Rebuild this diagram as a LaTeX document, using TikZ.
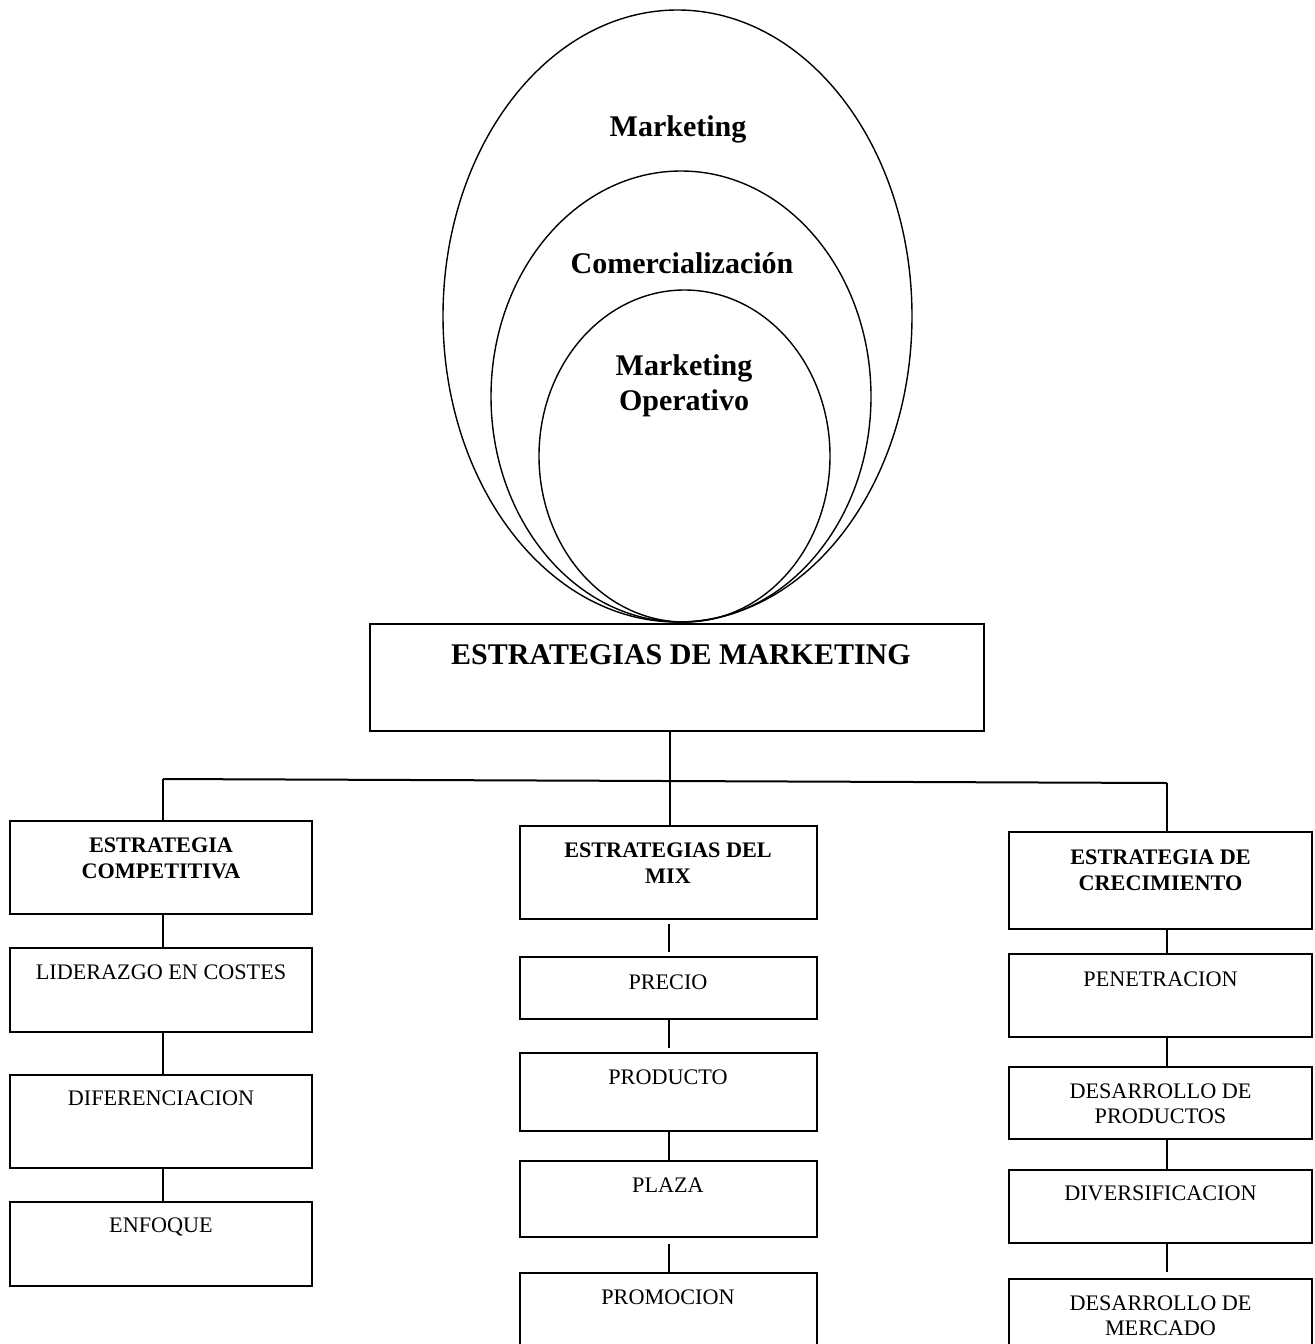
\documentclass[tikz,border=0pt]{standalone}
\usepackage{fontspec}
\setmainfont{Liberation Serif}
\usetikzlibrary{shapes.geometric}
\begin{document}
\begin{tikzpicture}[x=0.5pt,y=-0.5pt,
  box/.style={draw, line width=1pt, rectangle, inner sep=0pt},
  lbl/.style={font=\fontsize{11.1}{12.5}\selectfont, align=center, anchor=north, inner sep=0pt},
  blbl/.style={font=\fontsize{11.1}{12.8}\selectfont\bfseries, align=center, anchor=north, inner sep=0pt},
  big/.style={font=\fontsize{15}{17.5}\selectfont\bfseries, align=center, inner sep=0pt},
  conn/.style={line width=1pt},
  oval/.style={draw, ellipse, line width=0.7pt, inner sep=0pt}]
\useasboundingbox (0,0) rectangle (1314,1344);
\fill[white] (0,0) rectangle (1314,1344);
\clip (0,0) rectangle (1314,1344);

% ellipses
\node[oval, minimum width=234.5pt, minimum height=306pt] (outer) at (677.5,316) {};
\node[oval, minimum width=190pt, minimum height=225.5pt] (middle) at (681,396.5) {};
\node[oval, minimum width=145.5pt, minimum height=166pt] (inner) at (684.5,456) {};
\node[big, anchor=base] (tmk) at (678,136.7) {Marketing};
\node[big, anchor=base] (tcom) at (682,273) {Comercialización};
\node[big, anchor=north] (tmo) at (684,354.7) {Marketing\\Operativo};

% main box
\node[box, minimum width=307pt, minimum height=53.5pt] (main) at (677,677.5) {};
\node[big, anchor=north] (tmain) at (681,644.2) {ESTRATEGIAS DE MARKETING};

% left column
\node[box, minimum width=151pt, minimum height=46.5pt] (lc0) at (161,867.5) {};
\node[box, minimum width=151pt, minimum height=42pt] (lc1) at (161,990) {};
\node[box, minimum width=151pt, minimum height=46.5pt] (lc2) at (161,1121.5) {};
\node[box, minimum width=151pt, minimum height=42pt] (lc3) at (161,1244) {};
\node[blbl] (tl0) at (161,837.7) {ESTRATEGIA\\COMPETITIVA};
\node[lbl] (tl1) at (161,964.7) {LIDERAZGO EN COSTES};
\node[lbl] (tl2) at (161,1090.7) {DIFERENCIACION};
\node[lbl] (tl3) at (161,1217.7) {ENFOQUE};

% middle column
\node[box, minimum width=148.5pt, minimum height=46.5pt] (mc0) at (668.5,872.5) {};
\node[box, minimum width=148.5pt, minimum height=31pt] (mc1) at (668.5,988) {};
\node[box, minimum width=148.5pt, minimum height=39pt] (mc2) at (668.5,1092) {};
\node[box, minimum width=148.5pt, minimum height=38pt] (mc3) at (668.5,1199) {};
\node[box, minimum width=148.5pt, minimum height=43.5pt] (mc4) at (668.5,1316.5) {};
\node[blbl] (tm0) at (668,842.7) {ESTRATEGIAS DEL\\MIX};
\node[lbl] (tm1) at (668,974.7) {PRECIO};
\node[lbl] (tm2) at (668,1069.7) {PRODUCTO};
\node[lbl] (tm3) at (668,1177.7) {PLAZA};
\node[lbl] (tm4) at (668,1289.7) {PROMOCION};

% right column
\node[box, minimum width=151.5pt, minimum height=48.5pt] (rc0) at (1160.5,880.5) {};
\node[box, minimum width=151.5pt, minimum height=41.5pt] (rc1) at (1160.5,995.5) {};
\node[box, minimum width=151.5pt, minimum height=36pt] (rc2) at (1160.5,1103) {};
\node[box, minimum width=151.5pt, minimum height=36.5pt] (rc3) at (1160.5,1206.5) {};
\node[box, minimum width=151.5pt, minimum height=40.5pt] (rc4) at (1160.5,1319.5) {};
\node[blbl] (tr0) at (1160.5,849.7) {ESTRATEGIA DE\\CRECIMIENTO};
\node[lbl] (tr1) at (1160.5,971.7) {PENETRACION};
\node[lbl] (tr2) at (1160.5,1083.7) {DESARROLLO DE\\PRODUCTOS};
\node[lbl] (tr3) at (1160.5,1185.7) {DIVERSIFICACION};
\node[lbl] (tr4) at (1160.5,1295.7) {DESARROLLO DE\\MERCADO};

% tree connectors
\coordinate (hl) at (163,779);
\coordinate (hm) at (670,781);
\coordinate (hr) at (1167,783);
\draw[conn] (main.south -| hm) -- (hm);
\draw[conn] (hl) -- (hr);
\draw[conn] (hl) -- (hl |- lc0.north);
\draw[conn] (hm) -- (hm |- mc0.north);
\draw[conn] (hr) -- (hr |- rc0.north);

% left column connectors
\draw[conn] ([xshift=1pt]lc0.south) -- ([xshift=1pt]lc1.north);
\draw[conn] ([xshift=1pt]lc1.south) -- ([xshift=1pt]lc2.north);
\draw[conn] ([xshift=1pt]lc2.south) -- ([xshift=1pt]lc3.north);

% middle column connectors
\draw[conn, shorten <=2pt, shorten >=2pt] (mc0.south) -- (mc1.north);
\draw[conn, shorten >=2pt] (mc1.south) -- (mc2.north);
\draw[conn] (mc2.south) -- (mc3.north);
\draw[conn, shorten <=3pt] (mc3.south) -- (mc4.north);

% right column connectors
\draw[conn] ([xshift=3.25pt]rc0.south) -- ([xshift=3.25pt]rc1.north);
\draw[conn] ([xshift=3.25pt]rc1.south) -- ([xshift=3.25pt]rc2.north);
\draw[conn] ([xshift=3.25pt]rc2.south) -- ([xshift=3.25pt]rc3.north);
\draw[conn, shorten >=3pt] ([xshift=3.25pt]rc3.south) -- ([xshift=3.25pt]rc4.north);
\end{tikzpicture}
\end{document}
